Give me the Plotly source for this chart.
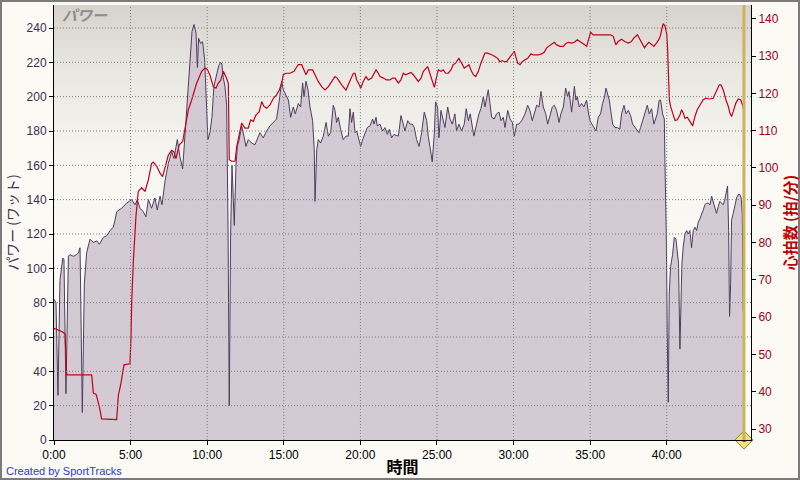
import base64

import plotly.graph_objects as go

# --- axis ticks -------------------------------------------------------------
time_ticks = [0, 5, 10, 15, 20, 25, 30, 35, 40]
time_labels = ["0:00", "5:00", "10:00", "15:00", "20:00", "25:00", "30:00", "35:00", "40:00"]
power_ticks = [0, 20, 40, 60, 80, 100, 120, 140, 160, 180, 200, 220, 240]
hr_ticks = [30, 40, 50, 60, 70, 80, 90, 100, 110, 120, 130, 140]
lap_times = [45.04]
lap_labels = ["1"]

# --- power (W) vs elapsed minutes -------------------------------------------
power_min = [
    0.00, 0.13, 0.26, 0.39, 0.57, 0.65, 0.78, 0.94, 1.04, 1.26, 1.48, 1.59, 1.70, 1.85, 1.98,
    2.13, 2.35, 2.57, 2.79, 2.96, 3.22, 3.44, 3.66, 3.87, 3.98, 4.09, 4.42, 4.74, 5.07, 5.29,
    5.44, 5.61, 5.83, 6.00, 6.16, 6.37, 6.59, 6.74, 6.92, 7.05, 7.25, 7.46, 7.68, 7.83, 8.05,
    8.22, 8.40, 8.55, 8.70, 8.88, 9.01, 9.14, 9.27, 9.36, 9.44, 9.57, 9.70, 9.83, 9.92, 10.05,
    10.18, 10.31, 10.44, 10.62, 10.75, 10.88, 10.96, 11.05, 11.16, 11.27, 11.36, 11.44, 11.53,
    11.62, 11.70, 11.77, 11.88, 11.97, 12.09, 12.25, 12.40, 12.53, 12.68, 12.90, 13.12, 13.34,
    13.44, 13.66, 13.88, 14.10, 14.32, 14.53, 14.71, 14.86, 14.97, 15.14, 15.30, 15.45, 15.62,
    15.75, 15.95, 16.10, 16.23, 16.32, 16.45, 16.58, 16.71, 16.88, 16.99, 17.04, 17.15, 17.25,
    17.41, 17.58, 17.76, 17.91, 18.06, 18.23, 18.34, 18.45, 18.56, 18.71, 18.88, 19.06, 19.21,
    19.32, 19.43, 19.54, 19.65, 19.76, 19.93, 20.02, 20.15, 20.30, 20.45, 20.63, 20.80, 20.89,
    21.02, 21.10, 21.28, 21.45, 21.61, 21.76, 21.89, 22.04, 22.19, 22.48, 22.65, 22.80, 22.91,
    23.09, 23.24, 23.39, 23.52, 23.67, 23.83, 24.00, 24.17, 24.33, 24.43, 24.61, 24.69, 24.83,
    24.91, 25.04, 25.13, 25.26, 25.41, 25.52, 25.70, 25.85, 26.00, 26.17, 26.28, 26.43, 26.61,
    26.78, 26.91, 27.05, 27.17, 27.31, 27.41, 27.59, 27.74, 27.87, 28.03, 28.13, 28.24, 28.35,
    28.46, 28.57, 28.74, 28.89, 29.05, 29.18, 29.33, 29.44, 29.62, 29.77, 29.92, 30.05, 30.20,
    30.35, 30.53, 30.75, 30.92, 31.07, 31.22, 31.35, 31.51, 31.66, 31.79, 31.94, 32.10, 32.23,
    32.38, 32.53, 32.66, 32.81, 32.97, 33.09, 33.25, 33.40, 33.53, 33.62, 33.79, 33.97, 34.07,
    34.16, 34.29, 34.44, 34.59, 34.77, 34.88, 34.99, 35.12, 35.25, 35.38, 35.53, 35.68, 35.81,
    35.94, 36.03, 36.12, 36.25, 36.34, 36.47, 36.62, 36.77, 36.94, 37.05, 37.21, 37.34, 37.49,
    37.64, 37.77, 37.92, 38.08, 38.19, 38.29, 38.42, 38.58, 38.73, 38.86, 39.01, 39.16, 39.29,
    39.38, 39.51, 39.60, 39.73, 39.84, 39.88, 39.97, 40.03, 40.10, 40.16, 40.25, 40.38, 40.49,
    40.60, 40.69, 40.77, 40.86, 40.92, 40.99, 41.08, 41.19, 41.30, 41.41, 41.51, 41.62, 41.73,
    41.84, 41.95, 42.06, 42.17, 42.27, 42.38, 42.49, 42.60, 42.71, 42.82, 42.93, 43.03, 43.14,
    43.25, 43.36, 43.47, 43.58, 43.69, 43.79, 43.90, 43.97, 44.04, 44.10, 44.17, 44.23, 44.34,
    44.45, 44.56, 44.67, 44.77, 44.86, 44.93, 44.99,
]
power_w = [
    82, 80, 26, 93, 106, 105, 27, 107, 108, 107, 108, 109, 112, 16, 91,
    109, 117, 115, 116, 114, 118, 119, 122, 124, 128, 133, 135, 138, 140, 137,
    140, 135, 133, 130, 140, 135, 141, 134, 142, 137, 151, 161, 168, 164, 175,
    165, 158, 179, 198, 225, 238, 242, 237, 217, 234, 231, 232, 222, 198, 175,
    179, 188, 206, 214, 218, 220, 219, 211, 206, 195, 125, 20, 120,
    160, 140, 125, 160, 171, 175, 183, 177, 171, 175, 173, 172, 177,
    179, 176, 180, 183, 185, 187, 198, 209, 204, 201, 198, 188, 194,
    190, 196, 194, 208, 200, 209, 204, 194, 186, 169, 139, 169, 175,
    173, 177, 185, 177, 179, 195, 192, 185, 188, 181, 175, 177, 177,
    193, 185, 191, 179, 180, 175, 171, 175, 179, 182, 183, 187, 184,
    188, 183, 184, 180, 182, 178, 181, 176, 178, 177, 189, 184, 180,
    186, 184, 184, 182, 175, 171, 179, 191, 186, 177, 167, 162, 179,
    197, 194, 176, 192, 186, 182, 194, 187, 184, 190, 180, 184, 180,
    184, 193, 186, 190, 181, 177, 184, 190, 193, 200, 194, 200, 204,
    196, 188, 187, 190, 191, 186, 188, 182, 192, 187, 185, 177, 184,
    184, 186, 190, 195, 192, 186, 190, 195, 194, 203, 194, 190, 184,
    190, 194, 195, 192, 185, 190, 194, 205, 200, 203, 191, 206, 198,
    200, 194, 196, 194, 198, 191, 186, 184, 182, 180, 188, 190, 196,
    200, 205, 202, 198, 192, 184, 182, 182, 181, 190, 195, 190, 192,
    189, 184, 182, 180, 179, 182, 186, 191, 195, 190, 193, 184, 188,
    190, 198, 198, 190, 187, 163, 120, 62, 22, 85, 101, 108, 118,
    117, 107, 103, 53, 85, 103, 113, 120, 122, 120, 122, 112, 122,
    124, 122, 127, 129, 131, 134, 137, 138, 138, 137, 142, 139, 136,
    132, 136, 139, 138, 137, 140, 144, 148, 122, 72, 91, 128, 132,
    136, 141, 143, 143, 141, 132, 75,
]

# --- heart rate (bpm) vs elapsed minutes ------------------------------------
hr_min = [
    0.00, 0.57, 0.72, 0.83, 2.46, 2.57, 2.75, 2.96, 3.11, 4.09, 4.20, 4.35, 4.57, 4.96, 5.03,
    5.07, 5.18, 5.35, 5.50, 5.72, 5.94, 6.16, 6.37, 6.48, 6.70, 6.92, 7.09, 7.25, 7.46, 7.68,
    7.83, 7.96, 8.18, 8.40, 8.55, 8.77, 8.99, 9.31, 9.64, 9.86, 10.01, 10.18, 10.40, 10.57,
    10.72, 10.88, 11.05, 11.22, 11.38, 11.44, 11.60, 11.82, 11.93, 12.09, 12.25, 12.47, 12.68,
    12.84, 13.01, 13.18, 13.40, 13.56, 13.71, 13.88, 14.10, 14.32, 14.53, 14.71, 14.86, 14.97,
    15.14, 15.40, 15.67, 15.80, 15.95, 16.17, 16.28, 16.45, 16.60, 16.88, 17.04, 17.25, 17.47,
    17.69, 17.91, 18.12, 18.34, 18.49, 18.62, 18.78, 19.06, 19.21, 19.36, 19.54, 19.65, 19.76,
    19.93, 20.02, 20.19, 20.37, 20.52, 20.74, 20.85, 21.02, 21.17, 21.28, 21.50, 21.71, 21.93,
    22.10, 22.26, 22.48, 22.65, 22.80, 22.95, 23.13, 23.30, 23.45, 23.61, 23.78, 23.96, 24.11,
    24.39, 24.54, 24.69, 24.83, 24.98, 25.09, 25.26, 25.41, 25.56, 25.74, 25.91, 26.06, 26.22,
    26.43, 26.61, 26.78, 26.93, 27.09, 27.22, 27.37, 27.53, 27.70, 27.87, 28.03, 28.13, 28.31,
    28.46, 28.61, 28.78, 28.96, 29.11, 29.26, 29.40, 29.55, 29.70, 29.87, 30.05, 30.14, 30.27,
    30.42, 30.57, 30.75, 30.92, 31.14, 31.29, 31.44, 31.61, 31.83, 32.00, 32.16, 32.31, 32.48,
    32.66, 32.81, 33.03, 33.25, 33.40, 33.57, 33.79, 33.97, 34.16, 34.33, 34.51, 34.66, 34.77,
    34.88, 35.03, 35.20, 35.42, 35.68, 35.85, 36.07, 36.33, 36.51, 36.68, 36.83, 37.05, 37.26,
    37.49, 37.69, 37.85, 38.08, 38.25, 38.40, 38.55, 38.68, 38.83, 38.99, 39.16, 39.33, 39.48,
    39.58, 39.69, 39.76, 39.88, 39.99, 40.05, 40.12, 40.17, 40.25, 40.38, 40.54, 40.69, 40.86,
    40.97, 41.08, 41.19, 41.34, 41.51, 41.69, 41.84, 41.99, 42.17, 42.38, 42.56, 42.78, 43.03,
    43.25, 43.43, 43.54, 43.69, 43.86, 44.02, 44.12, 44.23, 44.34, 44.51, 44.67, 44.82, 44.95,
    45.04,
]
hr_bpm = [
    57, 56, 55.5, 44.5, 44.5, 39.6, 39.3, 36, 32.7, 32.5, 39, 41.8, 47.2, 47.5, 55,
    64, 75, 87, 93.7, 94.7, 93.7, 96.8, 101.2, 101.6, 100.5, 98.6, 97.7, 100.4, 103.4, 104.7,
    104.3, 102.5, 106.2, 107.1, 110.2, 115.6, 118.3, 122.7, 125.9, 126.8, 126.4, 124.9, 121.8, 121.4,
    122.7, 123.5, 125.9, 124.5, 122.7, 102.2, 101.8, 101.8, 105.7, 109.3, 112, 110.7, 110.7,
    112.9, 112.5, 114.2, 115.1, 117.8, 116.5, 116, 116.9, 118.7, 119.6, 120.9, 122.7, 125,
    125.4, 125.4, 125.9, 126.8, 127.7, 127.7, 126.8, 125, 126.3, 126.3, 125, 123.2, 121.8,
    120.9, 121.8, 123.2, 124.5, 124.1, 123.2, 122.3, 120.9, 122.3, 124.1, 125.4, 125.4, 123.6,
    122.3, 121.4, 123.2, 124.5, 123.6, 124.1, 125, 126.3, 125.4, 124.5, 124.1, 123.6, 123.6,
    124.1, 124.1, 122.8, 123.6, 125.4, 125, 125.4, 125.6, 125, 124.1, 123.2, 124.1, 125.9,
    127.2, 125.4, 123.2, 121.6, 124.5, 126.3, 125.9, 126.3, 125.4, 125.4, 126.3, 127.7, 128.1,
    129.4, 128.1, 126.8, 127.2, 127.7, 126.3, 125, 124.5, 125.9, 128.1, 129.9, 130.8, 130.8,
    130.6, 130.3, 129.9, 129.4, 128.5, 128.8, 128.5, 128.5, 129.4, 130.3, 131.3, 129.9, 128.1,
    127.7, 128.5, 129, 129.4, 130.6, 130.3, 130.3, 130.3, 130.6, 131, 132.2, 132.6, 133,
    133.7, 133, 132.6, 132.6, 133.3, 133.7, 133.5, 133.7, 134.4, 133.9, 133.5, 133, 132.6,
    134.4, 136.4, 135.7, 135.7, 135.7, 135.9, 135.9, 135.7, 135.3, 133, 133.9, 134.5, 133.9,
    133.5, 133.9, 134.8, 135.7, 134.4, 133, 132.2, 133, 133.7, 133.2, 132.6, 133.5, 134.4,
    135.4, 137.2, 138.7, 138.1, 136.2, 132.6, 125.4, 118.3, 116.5, 114.7, 112.7, 112.9, 114.2,
    115.6, 114.7, 113.3, 113.6, 112.5, 111.3, 113.8, 115.6, 116.9, 118.3, 118.7, 118.5, 118.7,
    120.6, 122.3, 122.3, 120.9, 118.3, 116.5, 114.7, 113.8, 115.1, 117.4, 118.5, 118.3, 116.9,
    115.1,
]

# --- page geometry ----------------------------------------------------------
W, H = 800, 480
M = dict(l=54, r=49, t=5, b=40)
PW = W - M["l"] - M["r"]
PH = H - M["t"] - M["b"]


def px_x(p):
    return (p - M["l"]) / PW


def px_y(p):
    return (H - M["b"] - p) / PH


POWER_COL = "#4e3d5e"
HR_COL = "#c0001c"
TICK_FONT = "Liberation Sans, Arial, sans-serif"
JP_FONT = "Noto Sans CJK JP, sans-serif"

gradient_svg = (
    '<svg xmlns="http://www.w3.org/2000/svg" width="10" height="100" preserveAspectRatio="none">'
    '<defs><linearGradient id="g" x1="0" y1="0" x2="0" y2="1">'
    '<stop offset="0" stop-color="#d6d2cc"/><stop offset="0.15" stop-color="#e9e7e2"/>'
    '<stop offset="0.35" stop-color="#f6f5f0"/><stop offset="0.6" stop-color="#fbfaf6"/>'
    '<stop offset="1" stop-color="#fcfbf8"/></linearGradient></defs>'
    '<rect width="10" height="100" fill="url(#g)"/></svg>'
)
gradient_uri = "data:image/svg+xml;base64," + base64.b64encode(gradient_svg.encode()).decode()

fig = go.Figure()

fig.add_trace(
    go.Scatter(
        x=power_min,
        y=power_w,
        mode="lines",
        fill="tozeroy",
        fillcolor="#d4cad4",
        line=dict(color=POWER_COL, width=1),
        name="パワー",
        yaxis="y",
    )
)
fig.add_trace(
    go.Scatter(
        x=hr_min,
        y=hr_bpm,
        mode="lines",
        line=dict(color=HR_COL, width=1.2),
        name="心拍数",
        yaxis="y2",
    )
)

# dotted grid drawn over the filled area
for v in power_ticks[1:]:
    fig.add_shape(
        type="line", xref="paper", x0=0, x1=1, yref="y", y0=v, y1=v,
        line=dict(color="#7d7d7d", width=1, dash="1px,2px"), layer="above",
    )
for t in time_ticks[1:]:
    fig.add_shape(
        type="line", xref="x", x0=t, x1=t, yref="paper", y0=0, y1=1,
        line=dict(color="#7d7d7d", width=1, dash="1px,2px"), layer="above",
    )

# lap marker
for t in lap_times:
    fig.add_shape(
        type="line", xref="x", x0=t, x1=t, yref="paper", y0=0, y1=1,
        line=dict(color="#cdb35c", width=3), layer="above",
    )
fig.add_trace(
    go.Scatter(
        x=lap_times,
        y=[0] * len(lap_times),
        mode="markers+text",
        text=lap_labels,
        textfont=dict(size=8, color="#333", family=TICK_FONT),
        textposition="middle center",
        marker=dict(symbol="diamond", size=14, color="#f3e07c", line=dict(color="#8c7a2c", width=1)),
        cliponaxis=False,
        hoverinfo="skip",
        yaxis="y",
    )
)

# outer frame
fig.add_shape(
    type="rect", xref="paper", yref="paper",
    x0=px_x(1), x1=px_x(799), y0=px_y(479), y1=px_y(1),
    line=dict(color="#7b7b7b", width=2), layer="above",
)

fig.add_annotation(
    text="パワー", xref="paper", yref="paper", x=px_x(60), y=px_y(15),
    xanchor="left", yanchor="middle", showarrow=False,
    font=dict(family=JP_FONT, size=15, color="#8c8c8c", style="italic", weight="bold"),
)
fig.add_annotation(
    text="Created by SportTracks", xref="paper", yref="paper", x=px_x(4), y=px_y(471),
    xanchor="left", yanchor="middle", showarrow=False,
    font=dict(family=TICK_FONT, size=11, color="#2c3ccc"),
)

fig.update_layout(
    width=W,
    height=H,
    margin=M,
    autosize=False,
    showlegend=False,
    paper_bgcolor="#fbfaf5",
    plot_bgcolor="rgba(0,0,0,0)",
    images=[
        dict(
            source=gradient_uri, xref="paper", yref="paper", x=0, y=1,
            sizex=1, sizey=1, sizing="stretch", layer="below",
            xanchor="left", yanchor="top",
        )
    ],
    xaxis=dict(
        range=[0, 45.5],
        tickvals=time_ticks,
        ticktext=time_labels,
        ticks="outside",
        ticklen=4,
        tickcolor="black",
        showline=True,
        linecolor="black",
        linewidth=1,
        showgrid=False,
        zeroline=False,
        tickfont=dict(family=TICK_FONT, size=12, color="black"),
        title=dict(
            text="<b>時間</b>",
            font=dict(family=JP_FONT, size=16, color="black"),
            standoff=0,
        ),
    ),
    yaxis=dict(
        range=[0, 253.4],
        tickvals=power_ticks,
        ticks="outside",
        ticklen=4,
        tickcolor="black",
        showline=True,
        linecolor="black",
        linewidth=1,
        showgrid=False,
        zeroline=False,
        tickfont=dict(family=TICK_FONT, size=12, color="#3d2f4f"),
        title=dict(
            text="パワー (ワット)",
            font=dict(family=JP_FONT, size=14, color="#3d2f4f"),
            standoff=4,
        ),
    ),
    yaxis2=dict(
        overlaying="y",
        side="right",
        range=[27.05, 143.7],
        tickvals=hr_ticks,
        ticks="outside",
        ticklen=4,
        tickcolor="black",
        showline=True,
        linecolor="black",
        linewidth=1,
        showgrid=False,
        zeroline=False,
        tickfont=dict(family=TICK_FONT, size=12, color="#a00018"),
        title=dict(
            text="心拍数 (拍/分)",
            font=dict(family=JP_FONT, size=15, color="#c00000", weight="bold"),
            standoff=4,
        ),
    ),
)

fig.write_html(
    "out.html",
    config={"displayModeBar": False},
    post_script="document.body.style.margin='0';",
)
